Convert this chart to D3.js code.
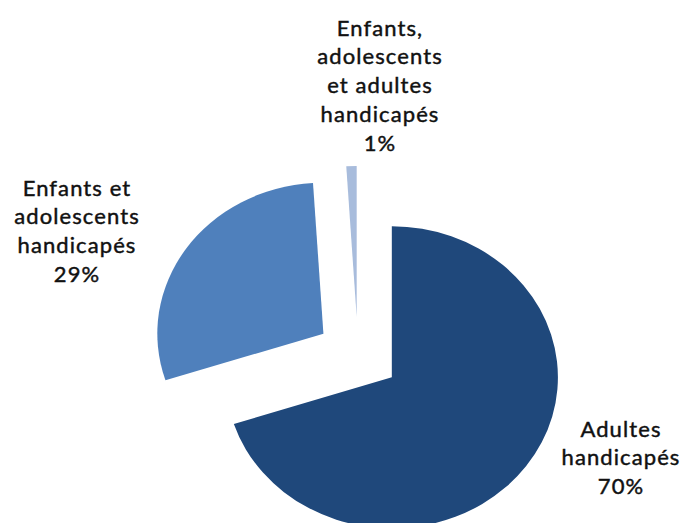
<!DOCTYPE html>
<html>
<head>
<meta charset="utf-8">
<script src="https://cdn.jsdelivr.net/npm/d3@7"></script>
<style>
  html, body { margin: 0; padding: 0; background: #fff; }
  svg { display: block; }
</style>
</head>
<body>
<svg id="chart" width="685" height="523"></svg>
<script>
// Répartition des places par public accueilli
const categories = [
  "Adultes handicapés",
  "Enfants et adolescents handicapés",
  "Enfants, adolescents et adultes handicapés"
];
const values = [70, 29, 1];
const labelLines = [
  ["Adultes", "handicapés"],
  ["Enfants et", "adolescents", "handicapés"],
  ["Enfants,", "adolescents", "et adultes", "handicapés"]
];
const colors = ["#1f487b", "#4f80bc", "#a8bcdc"];

// Layout
const width = 685, height = 523;
const cx = 358, cy = 355;
const radius = 151;
const stretchX = 1.1;       // pie is drawn slightly wider than tall
const explode = 38;         // distance each slice is pulled out
const lineStep = 28.8;
const labelAnchors = [
  { x: 621, y: 431 },
  { x: 77, y: 190 },
  { x: 380, y: 30 }
];

const svg = d3.select("#chart");

const pie = d3.pie().sort(null).value(d => d);
const arcs = pie(values);
const arc = d3.arc().innerRadius(0).outerRadius(radius);

const g = svg.append("g")
  .attr("transform", `translate(${cx},${cy}) scale(${stretchX},1)`);

g.selectAll("path")
  .data(arcs)
  .join("path")
  .attr("d", arc)
  .attr("fill", (d, i) => colors[i])
  .attr("transform", d => {
    const mid = (d.startAngle + d.endAngle) / 2;
    return `translate(${explode * Math.sin(mid)},${-explode * Math.cos(mid)})`;
  });

const labels = svg.append("g")
  .attr("font-family", "Lato, 'Open Sans', sans-serif")
  .attr("font-size", 22)
  .attr("letter-spacing", 1.1)
  .attr("fill", "#111")
  .attr("stroke", "#111")
  .attr("stroke-width", 0.45)
  .attr("text-anchor", "middle");

arcs.forEach((d, i) => {
  const lines = labelLines[i].concat([Math.round(values[i]) + "%"]);
  const t = labels.append("text");
  lines.forEach((line, j) => {
    t.append("tspan")
      .attr("x", labelAnchors[i].x)
      .attr("y", labelAnchors[i].y + j * lineStep)
      .attr("dominant-baseline", "middle")
      .text(line);
  });
});
</script>
</body>
</html>
